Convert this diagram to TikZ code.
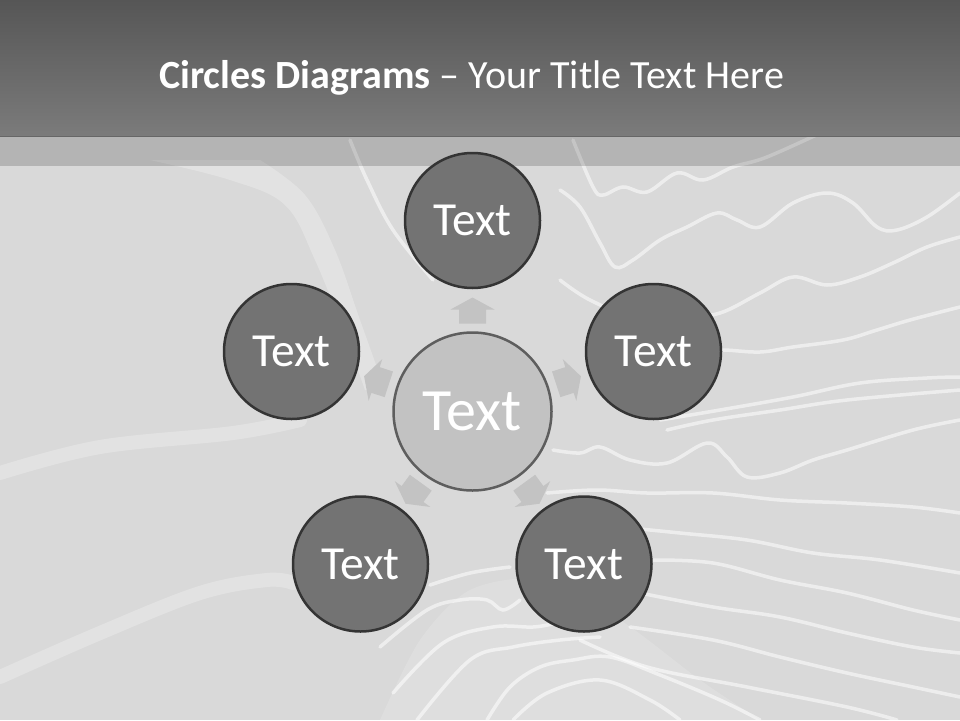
\documentclass[tikz,border=0pt]{standalone}
\usepackage{fontspec}
\setmainfont{Carlito}
\usetikzlibrary{calc}
\definecolor{bgcol}{HTML}{D9D9D9}
\definecolor{bartop}{HTML}{565656}
\definecolor{barbot}{HTML}{7B7B7B}
\definecolor{outerfill}{HTML}{737373}
\definecolor{outerline}{HTML}{343434}
\definecolor{centerfill}{HTML}{C2C2C2}
\definecolor{centerline}{HTML}{5E5E5E}
\definecolor{arrowcol}{HTML}{C3C3C3}
\tikzset{
  wave/.style={white, line width=3.5pt, opacity=0.55, line cap=round},
  softband/.style={white, line width=14pt, opacity=0.25, line cap=round},
  lightpatch/.style={white, opacity=0.25},
  outercirc/.style={circle, fill=outerfill, draw=outerline, line width=2.5pt,
    minimum size=135pt, inner sep=0pt, text=white, font=\fontsize{47.5}{57}\selectfont},
  centercirc/.style={circle, fill=centerfill, draw=centerline, line width=2.5pt,
    minimum size=158pt, inner sep=0pt, text=white, font=\fontsize{60}{72}\selectfont},
  blockarrow/.style={fill=arrowcol},
}
\begin{document}
\begin{tikzpicture}[x=1pt,y=-1pt]
\useasboundingbox (0,0) rectangle (960,720);
% background
\fill[bgcol] (0,0) rectangle (960,720);
% light patches
\fill[lightpatch] plot[smooth,tension=0.6] coordinates {(150,160) (230,180) (285,205) (315,260) (345,335) (365,390)}
  -- plot[smooth,tension=0.6] coordinates {(385,390) (360,320) (335,250) (305,195) (260,160)} -- cycle;
\fill[white, opacity=0.15] plot[smooth,tension=0.5] coordinates {(380,720) (420,640) (470,590) (540,580) (620,620) (700,680) (760,720)} -- cycle;
% soft left bands
\draw[softband] plot[smooth,tension=0.6] coordinates {(0,473) (100,447) (233,433) (300,420)};
\draw[softband] plot[smooth,tension=0.6] coordinates {(0,677) (100,633) (200,593) (267,580) (293,583)};
% wave lines
\draw[wave] plot[smooth,tension=0.6] coordinates {(350,140) (367,180) (393,230) (433,280)};
\draw[wave] plot[smooth,tension=0.6] coordinates {(573,140) (593,187) (603,195) (623,187) (647,192) (677,173) (703,180) (733,167) (767,157) (827,130)};
\draw[wave] plot[smooth,tension=0.6] coordinates {(560,190) (580,207) (600,243) (615,267) (633,260) (660,240) (687,227) (717,213) (737,220) (760,227) (793,203) (827,193) (853,203) (877,227) (897,230) (927,217) (960,193)};
\draw[wave] plot[smooth,tension=0.6] coordinates {(560,280) (590,300) (640,320) (680,318) (720,313) (760,293) (793,277) (827,285) (860,277) (893,263) (927,247) (960,237)};
\draw[wave] plot[smooth,tension=0.6] coordinates {(700,352) (723,350) (760,352) (793,347) (843,340) (877,330) (910,320) (960,307)};
\draw[wave] plot[smooth,tension=0.6] coordinates {(660,420) (720,410) (793,397) (860,383) (927,378) (960,377)};
\draw[wave] plot[smooth,tension=0.6] coordinates {(667,430) (713,420) (780,410) (847,400) (960,390)};
\draw[wave] plot[smooth,tension=0.6] coordinates {(553,450) (580,453) (600,447) (630,460) (667,463) (707,443) (727,457) (747,477) (780,473) (813,460) (847,450) (913,430) (960,420)};
\draw[wave] plot[smooth,tension=0.6] coordinates {(547,493) (597,490) (647,493) (713,493) (780,500) (847,503) (913,507) (960,513)};
\draw[wave] plot[smooth,tension=0.6] coordinates {(620,527) (680,533) (747,540) (813,553) (880,560) (960,573)};
\draw[wave] plot[smooth,tension=0.6] coordinates {(653,560) (713,563) (780,580) (847,593) (913,610) (960,620)};
\draw[wave] plot[smooth,tension=0.6] coordinates {(640,593) (713,607) (780,617) (847,633) (913,647) (960,653)};
\draw[wave] plot[smooth,tension=0.6] coordinates {(630,627) (713,640) (780,657) (847,673) (913,687) (960,697)};
\draw[wave] plot[smooth,tension=0.6] coordinates {(580,640) (647,667) (747,687) (847,707) (897,720)};
% bottom centre converging lines
\draw[wave] plot[smooth,tension=0.6] coordinates {(430,585) (470,573) (510,567)};
\draw[wave] plot[smooth,tension=0.6] coordinates {(380,647) (427,610) (460,600) (487,600) (503,610) (520,600)};
\draw[wave] plot[smooth,tension=0.6] coordinates {(393,693) (443,643) (493,627) (533,627) (560,623) (600,620)};
\draw[wave] plot[smooth,tension=0.6] coordinates {(417,720) (470,660) (513,647) (560,640) (600,637)};
\draw[wave] plot[smooth,tension=0.6] coordinates {(487,720) (510,687) (540,667) (573,660) (610,657) (660,675) (720,700) (760,720)};
\draw[wave] plot[smooth,tension=0.6] coordinates {(513,720) (547,693) (600,680) (650,700) (680,720)};
% title bar
\shade[top color=bartop, bottom color=barbot] (0,0) rectangle (960,136);
\fill[black, opacity=0.17] (0,136) rectangle (960,166);
\node[anchor=base west, text=white, inner sep=0pt, font=\fontsize{40}{48}\selectfont] (title) at (159,88)
  {\textbf{Circles Diagrams} – Your Title Text Here};
% circles
\node[centercirc] (c) at (472.5,411.5) {Text};
\node[outercirc] (n1) at (472.5,220.5) {Text};
\node[outercirc] (n2) at (653.5,351.5) {Text};
\node[outercirc] (n3) at (584,564) {Text};
\node[outercirc] (n4) at (360.5,564) {Text};
\node[outercirc] (n5) at (291.5,351.5) {Text};
% block arrows
\foreach \ang in {90,18,-54,-126,162}{
  \begin{scope}[shift={(c.center)}, rotate=\ang]
    \fill[blockarrow] (88,-13.5) -- (102,-13.5) -- (102,-22) -- (114,0) -- (102,22) -- (102,13.5) -- (88,13.5) -- cycle;
  \end{scope}
}
\end{tikzpicture}
\end{document}
